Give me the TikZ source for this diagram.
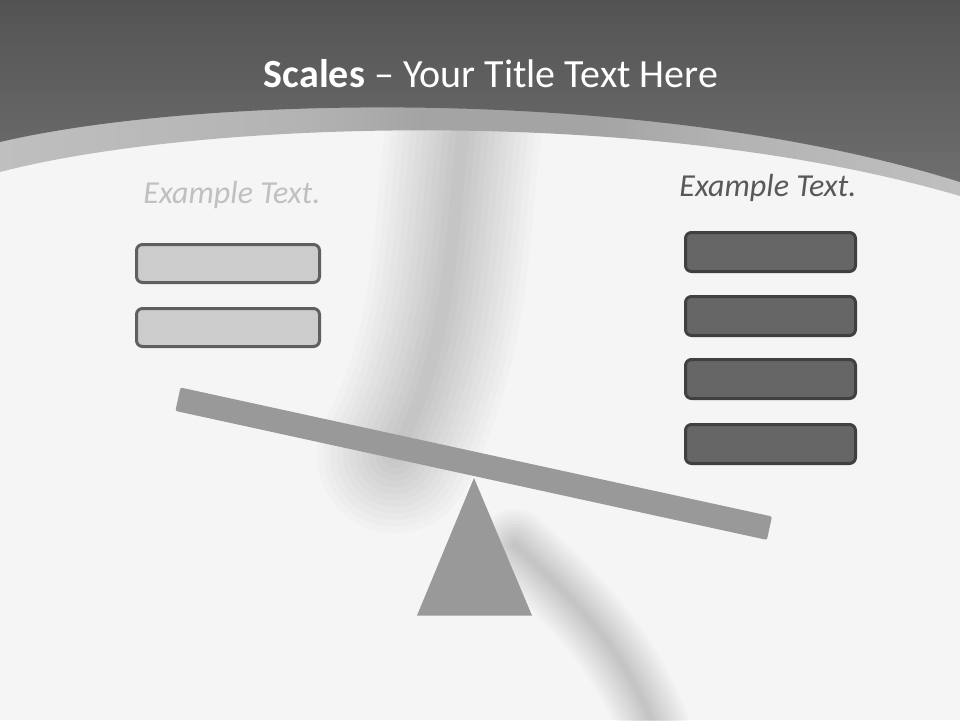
\documentclass[tikz,border=0pt]{standalone}
\usepackage{fontspec}
\setmainfont{Carlito}
\usetikzlibrary{positioning}

\definecolor{bgwhite}{HTML}{F5F5F5}
\definecolor{headtop}{HTML}{535353}
\definecolor{headbot}{HTML}{6E6E6E}
\definecolor{bandlt}{HTML}{BFBFBF}
\definecolor{bandmd}{HTML}{B3B3B3}
\definecolor{banddk}{HTML}{A4A4A4}
\definecolor{lightbox}{HTML}{CCCCCC}
\definecolor{lightedge}{HTML}{5F5F5F}
\definecolor{darkbox}{HTML}{666666}
\definecolor{darkedge}{HTML}{404040}
\definecolor{beamgray}{HTML}{999999}
\definecolor{paletext}{HTML}{C0C0C0}
\definecolor{deeptext}{HTML}{595959}

\pgfdeclarehorizontalshading{bandshade}{100bp}{color(0bp)=(bandlt); color(25bp)=(bandlt); color(41bp)=(bandmd); color(47bp)=(banddk); color(56bp)=(banddk); color(63bp)=(bandmd); color(75bp)=(bandlt); color(100bp)=(bandlt)}

\begin{document}
\begin{tikzpicture}[x=1pt,y=-1pt,
    leftbox/.style={draw=lightedge, fill=lightbox, line width=3pt, rounded corners=6pt,
      minimum width=183pt, minimum height=38pt, inner sep=0pt},
    rightbox/.style={draw=darkedge, fill=darkbox, line width=3pt, rounded corners=6pt,
      minimum width=170pt, minimum height=39pt, inner sep=0pt},
    caption/.style={anchor=base, inner sep=0pt, font=\fontsize{32}{38}\selectfont\itshape},
    haze/.style={black, line cap=round, opacity=0.014},
    beam/.style={fill=beamgray}]

    % Hatter
    \useasboundingbox (0,0) rectangle (960,720);
    \fill[bgwhite] (0,0) rectangle (960,720);

    % Elmosott arnyek a hatterben
    \foreach \k in {1,...,12} {
      \draw[haze, line width=13*\k pt]
        (465,115) .. controls (450,230) and (455,340) .. (395,455);
      \draw[haze, line width=6*\k pt]
        (515,545) .. controls (575,600) and (625,650) .. (655,730);
    }

    % Fejlec: vilagos sav es sotet resz
    \shade[shading=bandshade] (0,0) -- (960,0) -- (960,196)
      .. controls (650,105) and (200,120) .. (0,172) -- cycle;
    \shade[top color=headtop, bottom color=headbot] (0,0) -- (960,0) -- (960,182)
      .. controls (650,85) and (200,95) .. (0,142) -- cycle;

    % Cim
    \node[anchor=base, inner sep=0pt, text=white, font=\fontsize{40}{48}\selectfont]
      (title) at (491,87) {\textbf{Scales} – Your Title Text Here};

    % Feliratok
    \node[caption, text=paletext] (lefttext) at (232,203) {Example Text.};
    \node[caption, text=deeptext] (righttext) at (768,196) {Example Text.};

    % Dobozok
    \node[leftbox] (left1) at (228,263.5) {};
    \node[leftbox] (left2) at (228,327.5) {};
    \foreach \i/\y in {1/252, 2/316, 3/379, 4/444}
      \node[rightbox] (right\i) at (770.5,\y) {};

    % Merleg: rud es alatamasztas
    \fill[beam, rounded corners=2pt] (180.5,387.5) -- (772,516.5)
      -- (766.9,539.9) -- (175.4,410.9) -- cycle;
    \fill[beam] (474,478) -- (532,615.5) -- (417,615.5) -- cycle;

  \end{tikzpicture}
\end{document}
